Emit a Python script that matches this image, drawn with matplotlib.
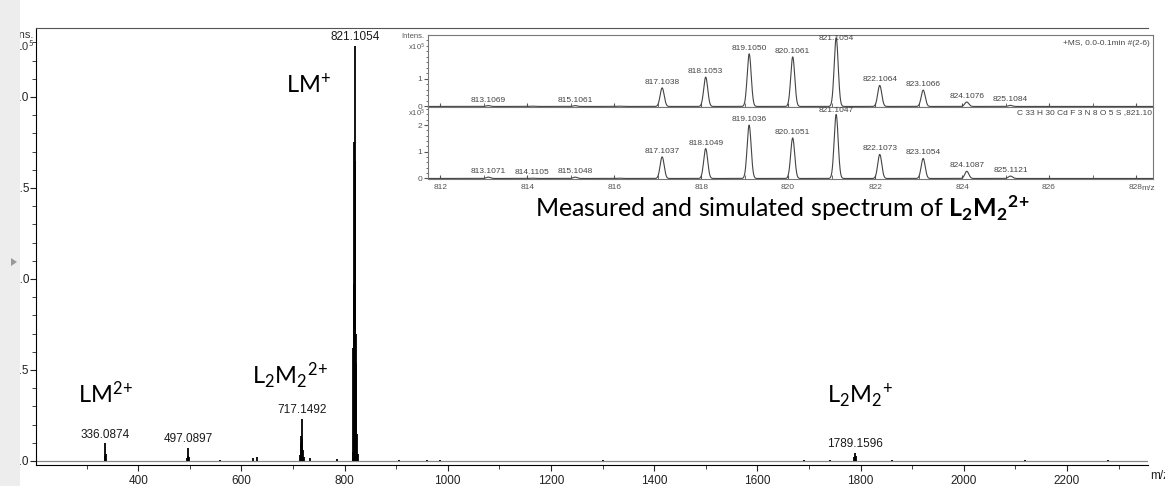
import numpy as np
import matplotlib
matplotlib.use('Agg')
import matplotlib.pyplot as plt
from matplotlib.patches import Rectangle, Polygon
from matplotlib.ticker import MultipleLocator

plt.rcParams['font.family'] = ['Liberation Sans', 'DejaVu Sans']
plt.rcParams['mathtext.fontset'] = 'custom'
plt.rcParams['mathtext.rm'] = 'Lato'
plt.rcParams['mathtext.bf'] = 'Lato:bold'
plt.rcParams['mathtext.it'] = 'Lato:italic'

# 全谱 m/z 与强度 (x10^5)
main_mz = [335.1, 336.0874, 337.1, 495.1, 496.1, 497.0897, 498.1, 559, 623, 630,
           713.1, 715.1, 716.1, 717.1492, 718.1, 719.1, 721.1, 733, 786,
           816.1, 817.1, 818.1, 819.1, 820.1, 821.1054, 822.1, 823.1, 824.1, 825.1,
           905, 960, 985, 1300, 1690, 1740, 1787.2, 1789.1596, 1791.2, 1860, 2119, 2280]
main_int = [0.03, 0.097, 0.04, 0.015, 0.03, 0.073, 0.02, 0.006, 0.015, 0.02,
            0.035, 0.10, 0.14, 0.23, 0.12, 0.06, 0.02, 0.015, 0.01,
            0.05, 0.62, 0.97, 1.75, 1.65, 2.28, 0.70, 0.54, 0.15, 0.04,
            0.006, 0.005, 0.005, 0.007, 0.005, 0.006, 0.02, 0.046, 0.025, 0.005, 0.008, 0.008]
main_lab_mz = [336.0874, 497.0897, 717.1492, 821.1054, 1789.1596]
main_lab_int = [0.097, 0.073, 0.23, 2.28, 0.046]
main_lab = ['336.0874', '497.0897', '717.1492', '821.1054', '1789.1596']

# 插图：实测谱
meas_mz = [813.1069, 814.11, 815.1061, 816.11, 817.1038, 818.1053, 819.1050, 820.1061,
           821.1054, 822.1064, 823.1066, 824.1076, 825.1084]
meas_int = [0.03, 0.01, 0.03, 0.01, 0.67, 1.06, 1.90, 1.79, 2.48, 0.76, 0.59, 0.16, 0.04]
meas_lab = ['813.1069', '', '815.1061', '', '817.1038', '818.1053', '819.1050', '820.1061',
            '821.1054', '822.1064', '823.1066', '824.1076', '825.1084']

# 插图：模拟谱
sim_mz = [813.1071, 814.1105, 815.1048, 816.11, 817.1037, 818.1049, 819.1036, 820.1051,
          821.1047, 822.1073, 823.1054, 824.1087, 825.1121]
sim_int = [0.05, 0.01, 0.05, 0.01, 0.81, 1.12, 2.00, 1.52, 2.40, 0.90, 0.75, 0.27, 0.09]
sim_lab = ['813.1071', '814.1105', '815.1048', '', '817.1037', '818.1049', '819.1036', '820.1051',
           '821.1047', '822.1073', '823.1054', '824.1087', '825.1121']

W, H = 1165, 486
def fx(px): return px / W
def fy(py): return 1 - py / H

fig = plt.figure(figsize=(W / 100, H / 100), dpi=100)
fig.patch.set_facecolor('white')

# ---- 主图 ----
ax = fig.add_axes([fx(36), fy(465), fx(1148 - 36), (465 - 28) / H])
ax.vlines(main_mz, 0, main_int, color='black', lw=1.3)
ax.axhline(0, color='#888888', lw=0.9, zorder=1)
ax.set_xlim(202, 2357)
ax.set_ylim(-0.022, 2.379)
for m, v, t in zip(main_lab_mz, main_lab_int, main_lab):
    ax.annotate(t, (m, v), xytext=(0, 2), textcoords='offset points',
                ha='center', va='bottom', fontsize=8.5, color='#1a1a1a')
ax.xaxis.set_major_locator(MultipleLocator(200))
ax.xaxis.set_minor_locator(MultipleLocator(100))
ax.yaxis.set_major_locator(MultipleLocator(0.5))
ax.yaxis.set_minor_locator(MultipleLocator(0.1))
ax.yaxis.set_major_formatter(matplotlib.ticker.FormatStrFormatter('%.1f'))
ax.set_xticks([400, 600, 800, 1000, 1200, 1400, 1600, 1800, 2000, 2200])
ax.tick_params(which='both', direction='out', labelsize=8.5, colors='#222222')
ax.tick_params(which='major', length=4)
ax.tick_params(which='minor', length=3)
ax.tick_params(axis='y', pad=1)
ax.spines['right'].set_visible(False)
ax.spines['top'].set_color('#555555')
for s in ['left', 'bottom']:
    ax.spines[s].set_color('black')

fig.text(fx(33), fy(35), 'Intens.', ha='right', va='center', fontsize=8, color='#333333')
fig.text(fx(34), fy(46), r'x10$^{5}$', ha='right', va='center', fontsize=8, color='#333333')
fig.text(fx(1150), fy(476), 'm/z', ha='left', va='center', fontsize=8.5, color='#222222')

# 离子标注
big = dict(fontsize=17, va='baseline', ha='left', color='black')
fig.text(fx(286), fy(93), r'$\mathrm{LM^{+}}$', **big)
fig.text(fx(78), fy(403), r'$\mathrm{LM^{2}{}^{+}}$', **big)
fig.text(fx(252), fy(384), r'$\mathrm{L_2M_2{}^{2}{}^{+}}$', **big)
fig.text(fx(827), fy(403), r'$\mathrm{L_2M_2{}^{+}}$', **big)
fig.text(fx(535), fy(217), r'Measured and simulated spectrum of $\mathbf{L_2M_2{}^{2}{}^{+}}$',
         fontsize=18, family='Lato', va='baseline', ha='left', color='black')

# ---- 插图 ----
grid = np.linspace(811.7, 828.4, 4000)
def profile(cs, hs, s=0.046):
    y = np.zeros_like(grid)
    for c, h in zip(cs, hs):
        y += h * np.exp(-0.5 * ((grid - c) / s) ** 2)
    return y

ax1 = fig.add_axes([fx(428), fy(107), fx(725), 72 / H])
ax2 = fig.add_axes([fx(428), fy(179), fx(725), 72 / H])
panels = [(ax1, meas_mz, meas_int, meas_lab, (-0.02, 2.58), [0, 1]),
          (ax2, sim_mz, sim_int, sim_lab, (-0.02, 2.68), [0, 1, 2])]
for a, cs, hs, labs, yl, yt in panels:
    a.plot(grid, profile(cs, hs), color='#444444', lw=0.8)
    a.set_xlim(811.72, 828.39)
    a.set_ylim(*yl)
    a.set_yticks(yt)
    a.yaxis.set_minor_locator(MultipleLocator(0.2))
    a.xaxis.set_major_locator(MultipleLocator(2))
    a.xaxis.set_minor_locator(MultipleLocator(1))
    a.tick_params(axis='y', which='both', direction='out', labelsize=6, colors='#555555', pad=1)
    a.tick_params(axis='y', which='major', length=3)
    a.tick_params(axis='y', which='minor', length=1.5)
    a.tick_params(axis='x', which='both', direction='in', labelsize=6, colors='#555555', length=3)
    for s in a.spines.values():
        s.set_color('#777777')
        s.set_linewidth(0.8)
    for c, h, t in zip(cs, hs, labs):
        if t:
            a.annotate(t, (c, min(h, yl[1] - 0.33)), xytext=(0, 1.5), textcoords='offset points',
                       ha='center', va='bottom', fontsize=6, color='#444444')
ax1.tick_params(axis='x', labelbottom=False)
ax2.set_xticks([812, 814, 816, 818, 820, 822, 824, 826, 828])

ax1.text(0.995, 0.93, '+MS, 0.0-0.1min #(2-6)', transform=ax1.transAxes,
         ha='right', va='top', fontsize=6, color='#444444')
ax2.text(0.998, 0.97, 'C 33 H 30 Cd F 3 N 8 O 5 S ,821.10', transform=ax2.transAxes,
         ha='right', va='top', fontsize=6, color='#444444')
fig.text(fx(424), fy(37), 'Intens.', ha='right', va='center', fontsize=5.5, color='#555555')
fig.text(fx(425), fy(46), r'x10$^{5}$', ha='right', va='center', fontsize=5.5, color='#555555')
fig.text(fx(425), fy(112), r'x10$^{5}$', ha='right', va='center', fontsize=5.5, color='#555555')
fig.text(fx(1141), fy(188), 'm/z', ha='left', va='center', fontsize=6, color='#555555')

# 左侧灰条
fig.add_artist(Rectangle((0, 0), fx(20), 1, transform=fig.transFigure,
                         facecolor='#ededed', edgecolor='none', zorder=5))
fig.add_artist(Polygon([(fx(11), fy(258)), (fx(11), fy(266)), (fx(17), fy(262))],
                       closed=True, transform=fig.transFigure, facecolor='#999999',
                       edgecolor='none', zorder=6))

fig.savefig('out.png', dpi=100)
